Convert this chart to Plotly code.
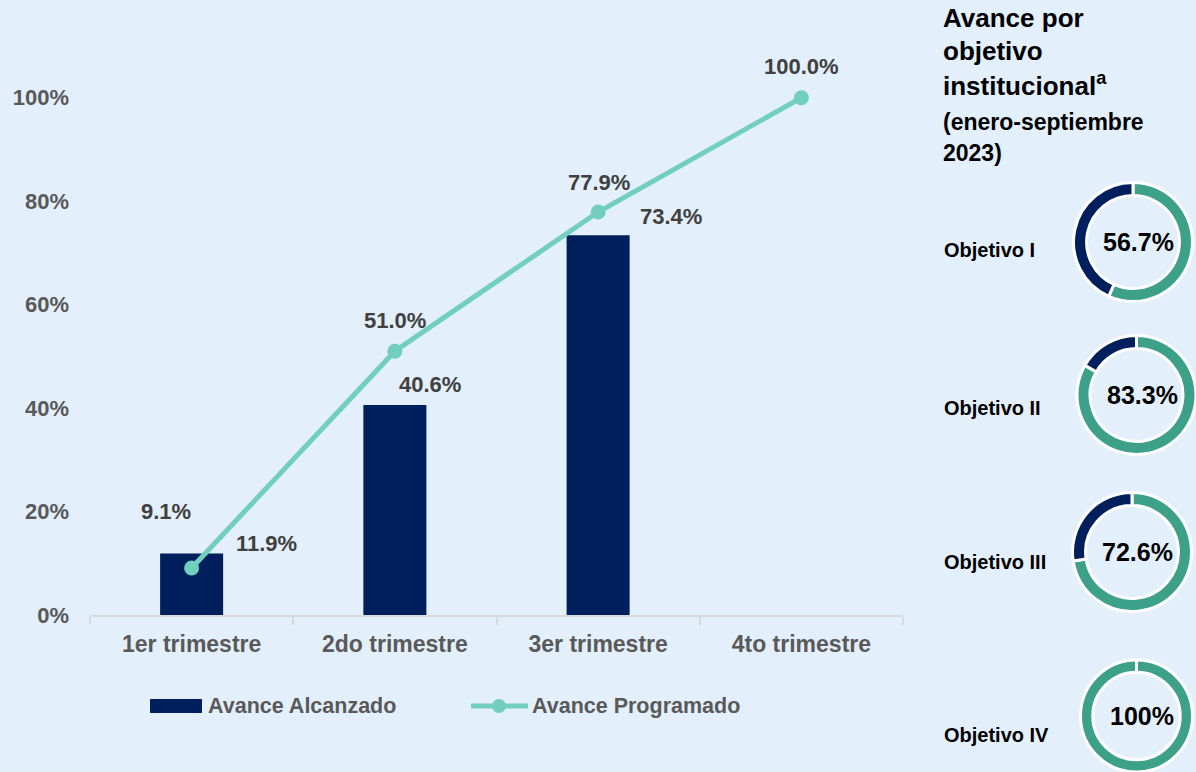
import plotly.graph_objects as go

# ---------------- data ----------------
quarters = ["1er trimestre", "2do trimestre", "3er trimestre", "4to trimestre"]
avance_alcanzado = [11.9, 40.6, 73.4, None]
avance_programado = [9.1, 51.0, 77.9, 100.0]
y_ticks = [0, 20, 40, 60, 80, 100]
y_tick_labels = ["0%", "20%", "40%", "60%", "80%", "100%"]

objetivos = ["Objetivo I", "Objetivo II", "Objetivo III", "Objetivo IV"]
objetivo_avance = [56.7, 83.3, 72.6, 100.0]
objetivo_labels = ["56.7%", "83.3%", "72.6%", "100%"]

# ---------------- style ----------------
W, H = 1196, 772
ML = 90
BG = "#E3EFFB"
DARK = "#001F5C"
LINE = "#72CFBE"
GREEN = "#3DA18A"
TICK = "#595959"
LBL = "#404040"
FONT = "Liberation Sans, Arial, sans-serif"

PW = W - ML


def fx(px):
    return (px - ML) / PW


def fy(py):
    return (H - py) / H


def bfont(size, color):
    return dict(family=FONT, size=size, color=color, weight="bold")


fig = go.Figure()

fig.add_trace(go.Bar(
    x=quarters, y=avance_alcanzado, marker=dict(color=DARK, line=dict(width=0)),
    width=0.31, name="Avance Alcanzado", showlegend=False, hoverinfo="skip",
))
fig.add_trace(go.Scatter(
    x=quarters, y=avance_programado, mode="lines+markers",
    line=dict(color=LINE, width=5), marker=dict(color=LINE, size=15),
    name="Avance Programado", showlegend=False, hoverinfo="skip",
))

annotations = []
# bar labels
bar_shift = [(75, 10), (35, 20), (73, 19)]
for q, v, (dx, dy) in zip(quarters, avance_alcanzado, bar_shift):
    if v is None:
        continue
    annotations.append(dict(x=q, y=v, xref="x", yref="y", text=f"{v:.1f}%",
                            showarrow=False, xshift=dx, yshift=dy,
                            font=bfont(22, LBL)))
# line labels
line_shift = [(-26, 56), (0, 31), (1, 30), (0, 31)]
for q, v, (dx, dy) in zip(quarters, avance_programado, line_shift):
    annotations.append(dict(x=q, y=v, xref="x", yref="y", text=f"{v:.1f}%",
                            showarrow=False, xshift=dx, yshift=dy,
                            font=bfont(22, LBL)))

# custom legend
shapes = [
    dict(type="rect", xref="paper", yref="paper", x0=fx(150), x1=fx(202),
         y0=fy(713), y1=fy(699), fillcolor=DARK, line=dict(width=0)),
    dict(type="line", xref="paper", yref="paper", x0=fx(471), x1=fx(528),
         y0=fy(706), y1=fy(706), line=dict(color=LINE, width=5)),
    dict(type="circle", xref="paper", yref="paper", x0=fx(492), x1=fx(506),
         y0=fy(713), y1=fy(699), fillcolor=LINE, line=dict(width=0)),
]
annotations.append(dict(x=fx(206), y=fy(706), xref="paper", yref="paper",
                        text="Avance Alcanzado", showarrow=False, xanchor="left",
                        yanchor="middle", font=bfont(21.5, TICK)))
annotations.append(dict(x=fx(530), y=fy(706), xref="paper", yref="paper",
                        text="Avance Programado", showarrow=False, xanchor="left",
                        yanchor="middle", font=bfont(21.5, TICK)))

# right panel title
title_lines = [("Avance por", 18, 26), ("objetivo", 51, 26),
               ("institucional<sup>a</sup>", 84, 26),
               ("(enero-septiembre", 122, 23), ("2023)", 153, 23)]
for t, yy, sz in title_lines:
    annotations.append(dict(x=fx(941), y=fy(yy), xref="paper", yref="paper", text=t,
                            showarrow=False, xanchor="left", yanchor="middle",
                            font=bfont(sz, "#000000")))

# donuts
centers = [(1133, 242), (1137, 395), (1132, 552), (1137, 716)]
label_y = [250, 408, 562, 735]
D = 119
for name, val, lab, (cx, cy), ly in zip(objetivos, objetivo_avance, objetivo_labels, centers, label_y):
    y0 = fy(cy + D / 2)
    y1 = fy(cy - D / 2)
    if y0 < 0:
        y1 += y0
        y0 = 0.0
    x0 = fx(cx - D / 2)
    x1 = fx(cx + D / 2)
    if x1 > 1:
        x0 -= (x1 - 1)
        x1 = 1.0
    fig.add_trace(go.Pie(
        values=[val, 100 - val], sort=False, direction="clockwise", rotation=0,
        hole=0.78, textinfo="none", hoverinfo="skip", showlegend=False,
        marker=dict(colors=[GREEN, DARK], line=dict(color="white", width=3)),
        domain=dict(x=[x0, x1], y=[y0, y1]),
    ))
    annotations.append(dict(x=fx(cx + 5), y=fy(cy), xref="paper", yref="paper", text=lab,
                            showarrow=False, xanchor="center", yanchor="middle",
                            font=bfont(25, "#000000")))
    annotations.append(dict(x=fx(942), y=fy(ly), xref="paper", yref="paper", text=name,
                            showarrow=False, xanchor="left", yanchor="middle",
                            font=bfont(20, "#000000")))

fig.update_layout(
    template="none",
    width=W, height=H,
    margin=dict(l=ML, r=0, t=0, b=0, pad=0),
    paper_bgcolor=BG, plot_bgcolor=BG,
    showlegend=False,
    bargap=0.69,
    xaxis=dict(domain=[0, 813 / PW], type="category", range=[-0.5, 3.5],
               showgrid=False, zeroline=False, showline=True, linecolor="#D9D9D9",
               linewidth=2, ticks="outside", tickson="boundaries", ticklen=8,
               tickwidth=2, tickcolor="#D9D9D9", automargin=False,
               ticklabelstandoff=7, tickfont=bfont(23, TICK)),
    yaxis=dict(domain=[fy(615), fy(46)], range=[0, 110], tickmode="array",
               tickvals=y_ticks, ticktext=y_tick_labels,
               showgrid=False, zeroline=False, showline=False,
               ticks="", ticklabelstandoff=20, automargin=False,
               tickfont=bfont(22, TICK)),
    annotations=annotations,
    shapes=shapes,
)

fig.write_html("out.html", config={"displayModeBar": False},
               post_script="document.body.style.margin='0';")
